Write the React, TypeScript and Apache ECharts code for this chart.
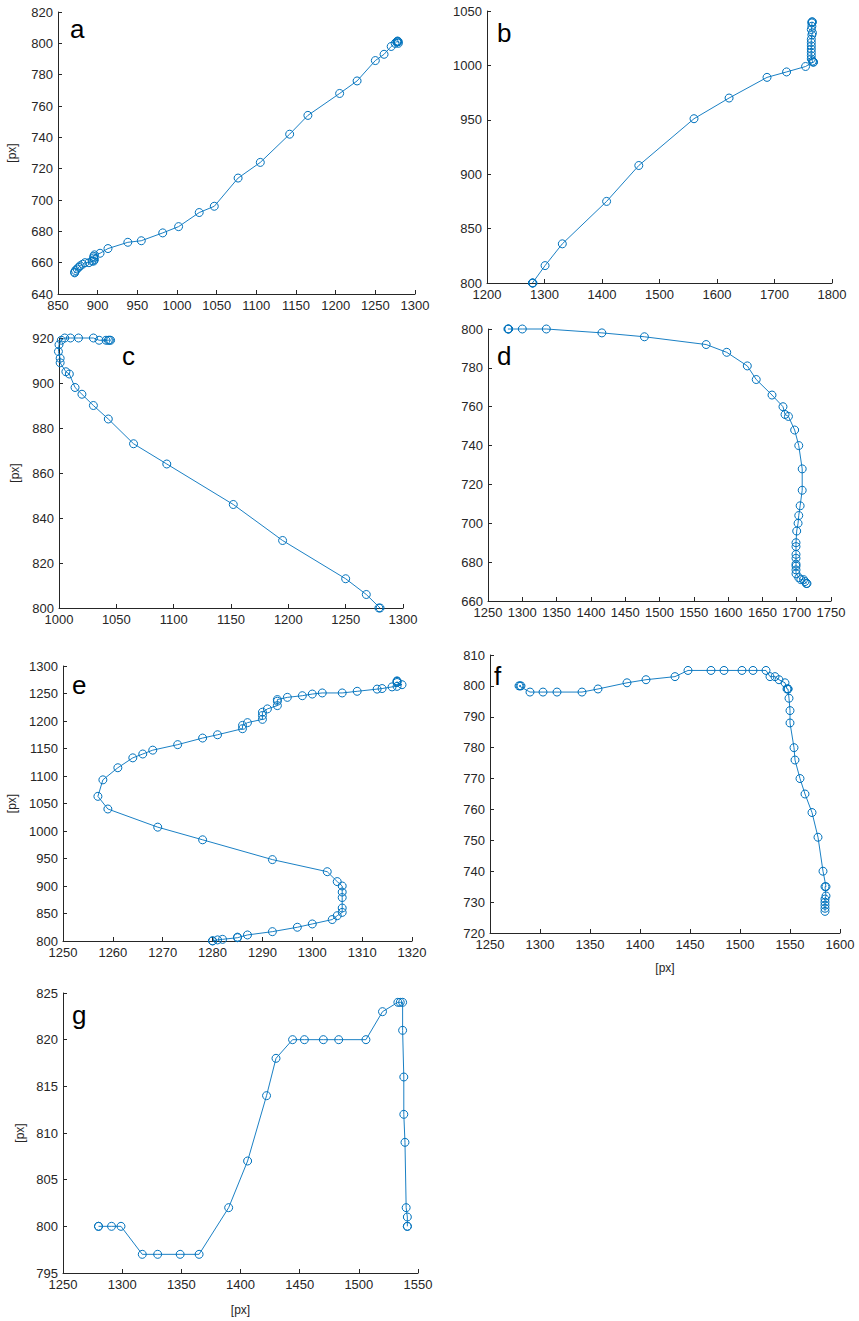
import React, { useEffect, useRef } from "react";
import * as echarts from "echarts";

// Trajectories in pixel coordinates, one array per panel: [x, y]
const trackA: number[][] = [
  [1279, 800], [1279, 801], [1278, 801], [1278, 801.5], [1277, 801], [1275, 800], [1270, 798],
  [1261, 793], [1250, 789], [1227, 776], [1205, 768], [1165, 754], [1142, 742], [1105, 724],
  [1077, 714], [1047, 696], [1028, 692], [1002, 683], [982, 679], [955, 674], [938, 673],
  [913, 669], [903, 666], [896, 665], [895, 664], [895, 663], [896, 662], [895, 661],
  [893, 661], [889, 660], [884, 660], [881, 659], [878, 658], [876, 657], [874, 656],
  [872, 655], [871, 654], [871, 653.5],
];

const trackB: number[][] = [
  [1279, 800], [1279, 800], [1280, 800], [1301, 816], [1331, 836], [1408, 875], [1464, 908],
  [1560, 951], [1621, 970], [1687, 989], [1721, 994], [1754, 999], [1767, 1003], [1768, 1003],
  [1766, 1004], [1764, 1006], [1764, 1009], [1764, 1012], [1764, 1015], [1764, 1018],
  [1764, 1021], [1764, 1024], [1765, 1028], [1766, 1030], [1764, 1033], [1765, 1036],
  [1765, 1039], [1766, 1040], [1765, 1040],
];

const trackC: number[][] = [
  [1279, 800], [1280, 800], [1268, 806], [1250, 813], [1195, 830], [1152, 846], [1094, 864],
  [1065, 873], [1043, 884], [1030, 890], [1020, 895], [1014, 898], [1009, 904], [1006, 905],
  [1001, 909], [1001, 911], [999.5, 914], [1000, 917], [1002, 919], [1005, 920], [1010, 920],
  [1017, 920], [1030, 920], [1035, 919], [1041, 919], [1043, 919], [1044, 919], [1045, 919],
];

const trackD: number[][] = [
  [1279, 800], [1280, 800], [1280, 800], [1300, 800], [1335, 800], [1416, 798], [1478, 796],
  [1568, 792], [1598, 788], [1628, 781], [1641, 774], [1664, 766], [1680, 760], [1683, 756],
  [1688, 755], [1697, 748], [1703, 740], [1708, 728], [1708, 717], [1705, 709], [1703, 704],
  [1702, 700], [1700, 696], [1699, 690], [1699, 688], [1699, 684], [1699, 682], [1699, 679],
  [1699, 678], [1699, 676], [1699, 674], [1703, 672], [1706, 671], [1710, 671], [1712, 670],
  [1714, 669], [1715, 669],
];

const trackE: number[][] = [
  [1280, 800], [1280, 800.5], [1281, 802], [1282, 803], [1285, 806], [1285, 807], [1287, 811],
  [1292, 817], [1297, 825], [1300, 831], [1304, 839], [1305, 846], [1306, 852], [1306, 860],
  [1306, 879], [1306, 889], [1306, 900], [1305, 908], [1303, 926], [1292, 948], [1278, 984],
  [1269, 1007], [1259, 1040], [1257, 1063], [1258, 1093], [1261, 1115], [1264, 1133],
  [1266, 1140], [1268, 1147], [1273, 1157], [1278, 1169], [1281, 1175], [1286, 1186],
  [1286, 1192], [1287, 1197], [1290, 1203], [1290, 1210], [1290, 1216], [1291, 1222],
  [1293, 1228], [1293, 1236], [1293, 1239], [1295, 1243], [1298, 1246], [1300, 1249],
  [1302, 1251], [1306, 1251], [1309, 1254], [1313, 1258], [1314, 1259], [1316, 1262],
  [1317, 1263], [1318, 1266], [1317, 1270], [1317, 1272], [1317, 1273],
];

const trackF: number[][] = [
  [1280, 800], [1281, 800], [1279, 800], [1290, 798], [1303, 798], [1317, 798], [1342, 798],
  [1358, 799], [1387, 801], [1406, 802], [1435, 803], [1448, 805], [1471, 805], [1484, 805],
  [1502, 805], [1513, 805], [1526, 805], [1530, 803], [1535, 803], [1539, 802], [1545, 801],
  [1547, 799], [1548, 799], [1548, 799], [1549, 796], [1550, 792], [1550, 788], [1554, 780],
  [1555, 776], [1560, 770], [1565, 765], [1572, 759], [1578, 751], [1583, 740], [1586, 735],
  [1585, 735], [1586, 732], [1585, 731], [1585, 730], [1585, 729], [1585, 728], [1585, 727],
];

const trackG: number[][] = [
  [1280, 800], [1280, 800], [1291, 800], [1299, 800], [1317, 797], [1330, 797], [1349, 797],
  [1365, 797], [1390, 802], [1406, 807], [1422, 814], [1430, 818], [1444, 820], [1454, 820],
  [1470, 820], [1483, 820], [1506, 820], [1520, 823], [1533, 824], [1535, 824], [1537, 824],
  [1537, 821], [1538, 816], [1538, 812], [1539, 809], [1540, 802], [1541, 801], [1541, 800],
  [1541, 800],
];

// Axis ranges per panel: [min, max, interval]
const xRanges: number[][] = [
  [850, 1300, 50], [1200, 1800, 100], [1000, 1300, 50], [1250, 1750, 50],
  [1250, 1320, 10], [1250, 1600, 50], [1250, 1550, 50],
];
const yRanges: number[][] = [
  [640, 820, 20], [800, 1050, 50], [800, 920, 20], [660, 800, 20],
  [800, 1300, 50], [720, 810, 10], [795, 825, 5],
];

const panelLetters = ["a", "b", "c", "d", "e", "f", "g"];
const tracks = [trackA, trackB, trackC, trackD, trackE, trackF, trackG];

// Plot boxes: left, top, width, height
const boxes = [
  [58, 12, 357, 282],
  [487, 11, 345, 272],
  [59, 338, 344, 270],
  [488, 329, 343, 272],
  [63, 666, 349, 275],
  [490, 655, 350, 278],
  [63, 993, 355, 280],
];
// Letter positions (x, baseline)
const letterPos = [
  [70, 36], [497, 40], [122, 363], [497, 363], [72, 692], [494, 683], [72, 1022],
];
const yNameGap = [40, 0, 38, 0, 45, 0, 37];
const xNameGap = [0, 0, 0, 0, 0, 29, 31];

const BLUE = "#0072BD";
const INK = "#262626";
const FONT = "'Liberation Sans', Arial, Helvetica, sans-serif";

export default function App() {
  const ref = useRef<HTMLDivElement>(null);

  useEffect(() => {
    if (!ref.current) return;
    const chart = echarts.init(ref.current, undefined, { renderer: "svg" });

    const label = {
      color: INK,
      fontSize: 13,
      fontFamily: FONT,
      margin: 5,
      showMaxLabel: true,
      showMinLabel: true,
      formatter: (v: number) => String(v),
    };

    const axisBase = {
      type: "value" as const,
      axisLine: { show: true, onZero: false, lineStyle: { color: INK, width: 1 } },
      axisTick: { show: true, inside: true, length: 4, lineStyle: { color: INK, width: 1 } },
      splitLine: { show: false },
      nameTextStyle: { color: INK, fontSize: 12, fontFamily: FONT },
      nameLocation: "middle" as const,
      axisLabel: label,
    };

    const grid = boxes.map((b) => ({
      left: b[0], top: b[1], width: b[2], height: b[3], containLabel: false,
    }));

    const xAxis = xRanges.map((r, i) => ({
      ...axisBase,
      gridIndex: i,
      min: r[0], max: r[1], interval: r[2],
      name: xNameGap[i] ? "[px]" : "",
      nameGap: xNameGap[i],
    }));

    const yAxis = yRanges.map((r, i) => ({
      ...axisBase,
      gridIndex: i,
      min: r[0], max: r[1], interval: r[2],
      name: yNameGap[i] ? "[px]" : "",
      nameGap: yNameGap[i],
      nameRotate: 90,
    }));

    const series = tracks.map((t, i) => ({
      type: "line" as const,
      xAxisIndex: i,
      yAxisIndex: i,
      data: t,
      showAllSymbol: true,
      symbol: "circle",
      symbolSize: 8,
      clip: false,
      lineStyle: { color: BLUE, width: 0.9 },
      itemStyle: { color: "rgba(0,0,0,0)", borderColor: BLUE, borderWidth: 1 },
      emphasis: { disabled: true },
    }));

    const graphic = panelLetters.map((l, i) => ({
      type: "text" as const,
      x: letterPos[i][0],
      y: letterPos[i][1] + 6,
      style: {
        text: l,
        fill: "#000",
        font: `26px ${FONT}`,
        verticalAlign: "bottom",
      },
      silent: true,
    }));

    chart.setOption({
      animation: false,
      backgroundColor: "#fff",
      grid,
      xAxis,
      yAxis,
      series,
      graphic,
    });

    return () => chart.dispose();
  }, []);

  return (
    <div
      ref={ref}
      style={{ position: "absolute", left: 0, top: 0, width: 859, height: 1321, background: "#fff" }}
    />
  );
}
